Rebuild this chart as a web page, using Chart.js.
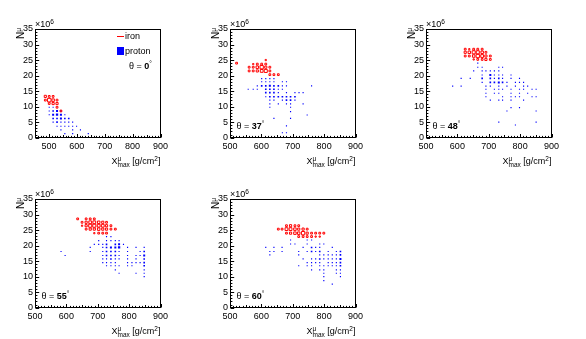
<!DOCTYPE html>
<html><head><meta charset="utf-8">
<script src="https://cdn.jsdelivr.net/npm/chart.js@4/dist/chart.umd.min.js"></script>
<style>
html,body{margin:0;padding:0;background:#fff;}
body{width:586px;height:339px;overflow:hidden;position:relative;font-family:"Liberation Sans",Arial,Helvetica,sans-serif;color:#000;}
.pad{position:absolute;width:195px;height:170px;}
.pad canvas{position:absolute;left:0;top:0;}
.t{position:absolute;white-space:nowrap;font-size:9px;line-height:9px;}
.sup{font-size:6.5px;position:relative;top:-3.5px;}
.st{position:relative;display:inline-block;}
.st .u{position:absolute;left:0;top:-3.5px;font-size:6.5px;}
.st .d{position:relative;top:2.5px;font-size:6.5px;}
.ytit{position:absolute;white-space:nowrap;font-size:10px;line-height:10px;transform-origin:0 0;transform:rotate(-90deg) translateX(-100%);}
</style></head>
<body>
<script>
// ---- data (x = Xmax^mu [g/cm2], y = N^mu [x10^6], c = bin content) ----
const thetaLabels = ['0','37','48','55','60'];
const xTicks = [500,600,700,800,900];
const yTicks = [0,5,10,15,20,25,30,35];
const xMins = [450,500,500,500,500];

const iron0 = [
 [487,13.3,3],[501,13.3,2],[515,13.3,2],
 [487,12.1,2],[501,12.1,8],[515,12.1,4],[529,12.1,2],
 [501,11.0,2],[515,11.0,3],[529,11.0,3],
 [529,9.8,2],[543,8.6,2]
];
const proton0 = [
 [501,9.8,1],[515,9.8,1],
 [501,8.6,1],[515,8.6,2],[529,8.6,3],[543,8.6,2],
 [501,7.4,1],[515,7.4,3],[529,7.4,4],[543,7.4,3],[557,7.4,1],
 [515,6.2,2],[529,6.2,2],[543,6.2,3],[557,6.2,2],[571,6.2,2],
 [515,5.0,1],[529,5.0,2],[543,5.0,1],[557,5.0,1],[571,5.0,1],[585,5.0,1],
 [529,3.7,1],[543,3.7,1],[557,3.7,1],[571,3.7,1],[585,3.7,1],[599,3.7,1],
 [543,2.5,1],[585,2.5,1],[613,2.5,1],
 [557,1.3,1],[585,1.3,1],[641,1.3,1]
];
const iron37 = [
 [521,24.0,2],[614,25.0,1],
 [574,23.7,1],[587,23.7,2],[601,23.7,2],[614,23.7,2],
 [561,22.7,2],[574,22.7,2],[587,22.7,4],[601,22.7,7],[614,22.7,3],[627,22.7,2],
 [561,21.5,2],[574,21.5,2],[587,21.5,3],[601,21.5,5],[614,21.5,6],[627,21.5,2],
 [627,20.3,2],[640,20.3,2],[654,20.3,2]
];
const proton37 = [
 [601,19.0,1],[614,19.0,1],[627,19.0,1],[640,19.0,1],
 [601,18.0,1],[614,18.0,1],[627,18.0,1],[640,18.0,1],[667,18.0,1],[680,18.0,1],
 [587,16.7,1],[601,16.7,2],[614,16.7,2],[627,16.7,3],[640,16.7,2],[654,16.7,2],[667,16.7,1],[680,16.7,1],[760,16.7,1],
 [558,15.6,1],[574,15.6,1],[587,15.6,1],[614,15.6,2],[627,15.6,2],[640,15.6,2],[654,15.6,1],[667,15.6,1],
 [614,14.5,2],[627,14.5,2],[640,14.5,2],[654,14.5,1],[680,14.5,1],[707,14.5,1],[720,14.5,1],[733,14.5,1],
 [614,13.2,1],[627,13.2,2],[640,13.2,2],[654,13.2,2],[667,13.2,2],[680,13.2,2],[693,13.2,2],[707,13.2,2],
 [627,12.1,1],[640,12.1,1],[667,12.1,1],[680,12.1,2],[693,12.1,2],[707,12.1,1],
 [627,10.9,1],[654,10.9,1],[680,10.9,1],[693,10.9,1],[733,10.9,1],
 [627,9.8,1],[693,9.8,1],[693,8.4,1],[746,7.3,1],[640,6.2,1],[693,6.2,1],
 [680,3.8,1],[667,1.6,1],[680,1.6,1]
];
const iron48 = [
 [625,28.5,2],[638,28.5,1],[652,28.5,2],[665,28.5,2],[679,28.5,2],
 [625,27.5,3],[638,27.5,4],[652,27.5,6],[665,27.5,6],[679,27.5,4],[691,27.5,2],
 [625,26.3,2],[638,26.3,2],[652,26.3,4],[665,26.3,7],[679,26.3,5],[691,26.3,3],[705,26.3,2],
 [652,25.2,1],[665,25.2,2],[679,25.2,2],[691,25.2,3],[705,25.2,2]
];
const proton48 = [
 [665,24.0,1],
 [665,22.7,1],[679,22.7,1],[732,22.7,1],[744,22.7,1],
 [652,21.5,1],[679,21.5,1],[691,21.5,1],[705,21.5,1],[718,21.5,1],[732,21.5,1],
 [679,20.2,1],[705,20.2,3],[718,20.2,1],[732,20.2,1],[744,20.2,1],[771,20.2,1],
 [612,19.1,1],[641,19.1,1],[679,19.1,2],[705,19.1,2],[718,19.1,1],[732,19.1,2],[744,19.1,1],[771,19.1,1],[798,19.1,1],
 [679,17.8,1],[705,17.8,2],[718,17.8,2],[732,17.8,3],[744,17.8,2],[758,17.8,1],[785,17.8,1],[798,17.8,1],[811,17.8,1],
 [585,16.6,1],[612,16.6,1],[691,16.6,1],[705,16.6,1],[732,16.6,1],[758,16.6,1],[785,16.6,1],[811,16.6,1],[824,16.6,1],
 [691,15.6,1],[718,15.6,1],[732,15.6,1],[744,15.6,1],[771,15.6,1],[798,15.6,1],[811,15.6,1],[838,15.6,1],[851,15.6,1],
 [691,14.3,1],[718,14.3,1],[732,14.3,1],[771,14.3,1],[798,14.3,1],[824,14.3,1],
 [691,13.2,1],[744,13.2,1],[771,13.2,1],[785,13.2,1],[798,13.2,1],[838,13.2,1],[851,13.2,1],
 [705,12.1,1],[732,12.1,1],[744,12.1,1],[771,12.1,1],[811,12.1,1],
 [771,9.7,1],[798,9.7,1],[758,8.6,1],[851,8.6,1],[732,5.0,1],[851,5.0,1],[785,4.1,1]
];
const iron55 = [
 [636,28.6,2],[663,28.6,2],[676,28.6,2],[689,28.6,2],
 [650,27.5,2],[663,27.5,3],[676,27.5,5],[689,27.5,5],[703,27.5,4],[716,27.5,3],[728,27.5,2],
 [650,26.4,1],[663,26.4,3],[676,26.4,6],[689,26.4,6],[703,26.4,5],[716,26.4,5],[728,26.4,3],[742,26.4,2],
 [663,25.3,2],[676,25.3,3],[689,25.3,3],[703,25.3,4],[716,25.3,3],[728,25.3,3],[742,25.3,2],[756,25.3,2],
 [689,24.0,1],[703,24.0,2],[716,24.0,2],[728,24.0,2]
];
const proton55 = [
 [728,22.9,1],[742,22.9,1],
 [703,21.6,1],[728,21.6,1],[742,21.6,1],[756,21.6,1],[768,21.6,1],
 [689,20.4,1],[703,20.4,1],[716,20.4,1],[728,20.4,2],[756,20.4,2],[768,20.4,3],[782,20.4,1],
 [676,19.4,1],[716,19.4,1],[728,19.4,2],[742,19.4,3],[756,19.4,3],[768,19.4,4],[795,19.4,1],[822,19.4,1],[848,19.4,1],
 [583,18.1,1],[676,18.1,1],[716,18.1,1],[728,18.1,2],[742,18.1,2],[756,18.1,2],[768,18.1,1],[795,18.1,1],[835,18.1,1],[848,18.1,2],
 [596,16.8,1],[716,16.8,1],[728,16.8,2],[742,16.8,2],[756,16.8,2],[768,16.8,1],[795,16.8,1],[822,16.8,1],[835,16.8,1],[848,16.8,3],
 [716,15.7,1],[728,15.7,1],[742,15.7,2],[756,15.7,1],[768,15.7,1],[795,15.7,1],[822,15.7,1],[848,15.7,2],
 [716,14.5,1],[728,14.5,1],[742,14.5,1],[756,14.5,1],[795,14.5,1],[809,14.5,1],[822,14.5,1],[835,14.5,1],[848,14.5,2],
 [728,13.5,1],[742,13.5,1],[756,13.5,1],[768,13.5,1],[795,13.5,1],[809,13.5,1],[848,13.5,2],
 [756,12.2,1],[848,12.2,1],[768,11.1,1],[822,11.1,1],[848,11.1,1],[848,10.0,1]
];
const iron60 = [
 [680,26.4,2],[693,26.4,3],[707,26.4,2],[719,26.4,2],
 [654,25.3,2],[666,25.3,2],[680,25.3,5],[693,25.3,5],[707,25.3,4],[719,25.3,3],[733,25.3,3],[746,25.3,2],
 [680,24.0,2],[693,24.0,3],[707,24.0,4],[719,24.0,4],[733,24.0,7],[746,24.0,3],[760,24.0,2],[773,24.0,2],[786,24.0,2],[799,24.0,2],
 [719,22.9,2],[733,22.9,2],[746,22.9,2],[760,22.9,2],[773,22.9,1],[786,22.9,1]
];
const proton60 = [
 [693,21.8,1],[746,21.8,1],[760,21.8,1],
 [693,20.5,1],[707,20.5,1],[746,20.5,1],[786,20.5,1],[799,20.5,1],
 [614,19.4,1],[640,19.4,1],[666,19.4,1],[733,19.4,1],[760,19.4,2],[773,19.4,1],[786,19.4,1],[826,19.4,1],
 [627,18.1,1],[640,18.1,1],[666,18.1,1],[719,18.1,1],[746,18.1,1],[760,18.1,2],[773,18.1,1],[786,18.1,2],[813,18.1,1],[839,18.1,1],[852,18.1,2],
 [627,17.0,1],[719,17.0,1],[786,17.0,1],[799,17.0,1],[813,17.0,1],[826,17.0,1],[839,17.0,1],[852,17.0,2],
 [733,15.7,1],[760,15.7,1],[773,15.7,1],[786,15.7,2],[799,15.7,1],[813,15.7,1],[826,15.7,1],[839,15.7,1],[852,15.7,3],
 [746,14.5,1],[760,14.5,1],[773,14.5,1],[786,14.5,1],[813,14.5,1],[826,14.5,1],[839,14.5,1],[852,14.5,2],
 [719,13.5,1],[746,13.5,1],[760,13.5,1],[786,13.5,1],[799,13.5,1],[813,13.5,1],[826,13.5,1],[839,13.5,1],[852,13.5,2],
 [760,12.2,1],[786,12.2,1],[799,12.2,1],[839,12.2,1],[852,12.2,1],
 [799,11.1,1],[839,11.1,1],[852,11.1,1],[799,10.0,1],[852,10.0,1],[799,8.7,1],[826,7.6,1]
];
const ironSets = [iron0, iron37, iron48, iron55, iron60];
const protonSets = [proton0, proton37, proton48, proton55, proton60];

// ---- layout ----
const padPos = [[0,0],[195,0],[391,0],[0,170],[195,170]];
const FONT = '"Liberation Sans", Arial, Helvetica, sans-serif';

function ironSide(c){ return 1.25*Math.sqrt(c); }
function protonSide(c){ return 1.15*Math.sqrt(c); }
function toPts(arr){ return arr.map(a=>({x:a[0], y:a[1], c:a[2]})); }

const framePlugin = {
  id:'frame',
  afterDatasetsDraw(chart){
    const {ctx, chartArea:a, scales:{x, y}} = chart;
    ctx.save();
    ctx.strokeStyle = '#000';
    ctx.lineWidth = 1;
    const L = Math.round(a.left)+0.5, R = Math.round(a.right)-0.5, T = Math.round(a.top)+0.5, B = Math.round(a.bottom)-0.5;
    ctx.strokeRect(L, T, R-L, B-T);
    ctx.beginPath();
    for (let v = Math.ceil(x.min/10)*10; v <= x.max; v += 10) {
      const px = Math.round(x.getPixelForValue(v)) + 0.5;
      const len = (v % 100 === 0) ? 3.5 : (v % 50 === 0 ? 2.5 : 1.6);
      ctx.moveTo(px, B); ctx.lineTo(px, B - len);
    }
    for (let v = y.min; v <= y.max; v += 1) {
      const py = Math.round(y.getPixelForValue(v)) + 0.5;
      const len = (v % 5 === 0) ? 3.7 : 1.9;
      ctx.moveTo(L, py); ctx.lineTo(L + len, py);
    }
    ctx.stroke();
    ctx.restore();
  }
};

function addText(pad, html, style, cls){
  const d = document.createElement('div');
  d.className = cls || 't';
  d.innerHTML = html;
  Object.assign(d.style, style);
  pad.appendChild(d);
  return d;
}

for (let i = 0; i < 5; i++) {
  const pad = document.createElement('div');
  pad.className = 'pad';
  pad.style.left = padPos[i][0] + 'px';
  pad.style.top = padPos[i][1] + 'px';
  document.body.appendChild(pad);
  const cv = document.createElement('canvas');
  cv.width = 195; cv.height = 170;
  cv.style.width = '195px'; cv.style.height = '170px';
  pad.appendChild(cv);

  new Chart(cv, {
    type: 'scatter',
    data: { datasets: [
      { label:'iron', data: toPts(ironSets[i]), order:0, pointStyle:'rect',
        backgroundColor:'rgba(255,255,255,0)', borderColor:'#ff0000', borderWidth:1,
        pointRadius: c => c.raw ? ironSide(c.raw.c)/Math.SQRT2 : 0 },
      { label:'proton', data: toPts(protonSets[i]), order:1, pointStyle:'rect',
        backgroundColor:'#0000ff', borderColor:'#0000ff', borderWidth:0,
        pointRadius: c => c.raw ? protonSide(c.raw.c)/Math.SQRT2 : 0 }
    ]},
    options: {
      responsive:false, animation:false, events:[], devicePixelRatio:1,
      layout:{ padding:{ left:0, top:29, right:34.5, bottom:0 } },
      plugins:{ legend:{display:false}, tooltip:{enabled:false}, title:{display:false} },
      scales:{
        x:{ type:'linear', min:xMins[i], max:900,
            afterBuildTicks: s => { s.ticks = xTicks.map(v => ({value:v})); },
            afterFit: s => { s.height = 32.3; },
            grid:{ display:false, drawTicks:false }, border:{ display:false },
            ticks:{ padding:3, color:'#000', font:{family:FONT, size:9}, maxRotation:0, autoSkip:false } },
        y:{ type:'linear', min:0, max:35,
            afterBuildTicks: s => { s.ticks = yTicks.map(v => ({value:v})); },
            afterFit: s => { s.width = 35; },
            grid:{ display:false, drawTicks:false }, border:{ display:false },
            ticks:{ padding:2, color:'#000', font:{family:FONT, size:9}, autoSkip:false } }
      }
    },
    plugins:[framePlugin]
  });

  // axis decorations
  addText(pad, '×10<span class="sup">6</span>', {left:'35px', top:'20px'});
  addText(pad, 'N<span class="sup">μ</span>', {left:'15.5px', top:'28px'}, 'ytit');
  addText(pad, 'X<span class="st"><span class="u">μ</span><span class="d">max</span></span> [g/cm<span class="sup">2</span>]',
          {right:'34.5px', top:'157px'});
  const th = 'θ = <b>' + thetaLabels[i] + '</b><span class="sup">°</span>';
  if (i === 0) {
    addText(pad, th, {left:'129px', top:'62px'});
    // legend
    const ln = document.createElement('div');
    Object.assign(ln.style, {position:'absolute', left:'117px', top:'36px', width:'7px', height:'1px', background:'#ff0000'});
    pad.appendChild(ln);
    addText(pad, 'iron', {left:'125px', top:'32px'});
    const bx = document.createElement('div');
    Object.assign(bx.style, {position:'absolute', left:'117px', top:'47px', width:'7px', height:'8px', background:'#0000ff'});
    pad.appendChild(bx);
    addText(pad, 'proton', {left:'125px', top:'46.5px'});
  } else {
    addText(pad, th, {left:'41.5px', top:'122px'});
  }
}
</script>
</body></html>
